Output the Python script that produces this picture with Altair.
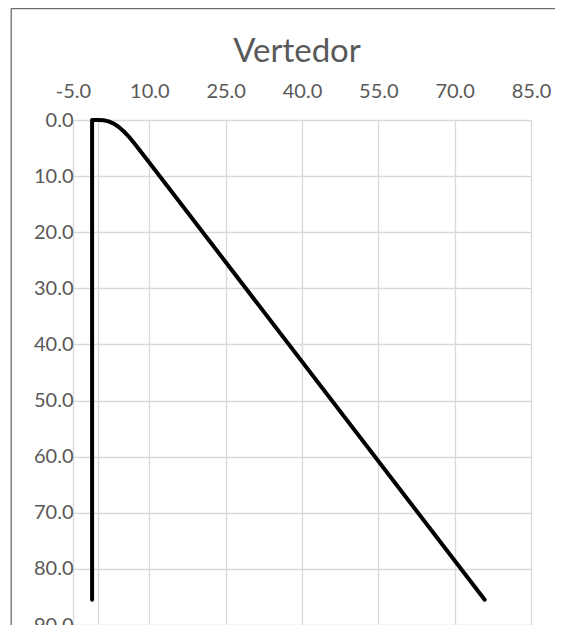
import altair as alt
import pandas as pd

title_text = "Vertedor"
# path of the spillway profile (x horizontal, y depth downward)
x_vals = [-1.25, -1.25, 0.0, 1.0, 2.0, 3.0, 4.0, 5.0, 6.0, 7.0, 8.0, 9.0, 75.9]
y_vals = [85.5, 0.0, 0.0, 0.05, 0.25, 0.65, 1.25, 2.05, 3.0, 4.1, 5.25, 6.4, 85.5]
x_ticks = [-5, 10, 25, 40, 55, 70, 85]
y_ticks = [0, 10, 20, 30, 40, 50, 60, 70, 80, 90]

df = pd.DataFrame({"x": x_vals, "y": y_vals, "i": list(range(len(x_vals)))})

FONT = "Lato"
GRID = "#d9d9d9"
TEXT = "#595959"
W, H = 458, 505
LABEL_EXPR = "replace(format(datum.value, '.1f'), '\u2212', '-')"

xscale = alt.Scale(domain=[-5, 85], nice=False, zero=False)
yscale = alt.Scale(domain=[0, 90], reverse=True, nice=False, zero=False)

xaxis = alt.Axis(orient="top", values=x_ticks, labelExpr=LABEL_EXPR, title=None,
                 ticks=False, tickSize=0, domain=False, labelFont=FONT,
                 labelFontSize=20, labelColor=TEXT, labelPadding=23,
                 labelBaseline="alphabetic", gridColor=GRID, gridWidth=1.3,
                 labelFlush=False, labelOverlap=False)
yaxis = alt.Axis(values=y_ticks, labelExpr=LABEL_EXPR, title=None, ticks=False,
                 tickSize=0, domain=False, labelFont=FONT, labelFontSize=20,
                 labelColor=TEXT, labelPadding=0, labelBaseline="middle",
                 gridColor=GRID, gridWidth=1.3, labelFlush=False,
                 labelOverlap=False)

zero_axis = alt.Chart(pd.DataFrame({"x": [0.0]})).mark_rule(
    color=GRID, strokeWidth=1.3
).encode(x=alt.X("x:Q", scale=xscale, axis=xaxis))

line = alt.Chart(df).mark_line(
    color="black", strokeWidth=4, strokeJoin="round", strokeCap="round"
).encode(
    x=alt.X("x:Q", scale=xscale, axis=xaxis),
    y=alt.Y("y:Q", scale=yscale, axis=yaxis),
    order="i:Q",
)

title = alt.Chart(pd.DataFrame({"t": [title_text]})).mark_text(
    font=FONT, fontSize=33, color=TEXT, align="center", baseline="alphabetic"
).encode(text="t:N", x=alt.value(W / 2 - 5), y=alt.value(-58))

frame_left = alt.Chart(pd.DataFrame({"a": [0]})).mark_rule(
    color="#6b6b6b", strokeWidth=1.3
).encode(x=alt.value(-61.8), y=alt.value(-111.4), y2=alt.value(H))
frame_top = alt.Chart(pd.DataFrame({"a": [0]})).mark_rule(
    color="#6b6b6b", strokeWidth=1.3
).encode(x=alt.value(-61.8), x2=alt.value(W + 30), y=alt.value(-111.4))

chart = alt.layer(zero_axis, line, title, frame_left, frame_top).properties(
    width=W, height=H,
    padding={"left": 65, "top": 112, "right": 24, "bottom": 0},
    autosize=alt.AutoSizeParams(type="none"),
    background="white",
).configure_view(stroke=None)

chart.save("out.html", embed_options={"renderer": "svg", "actions": False})
